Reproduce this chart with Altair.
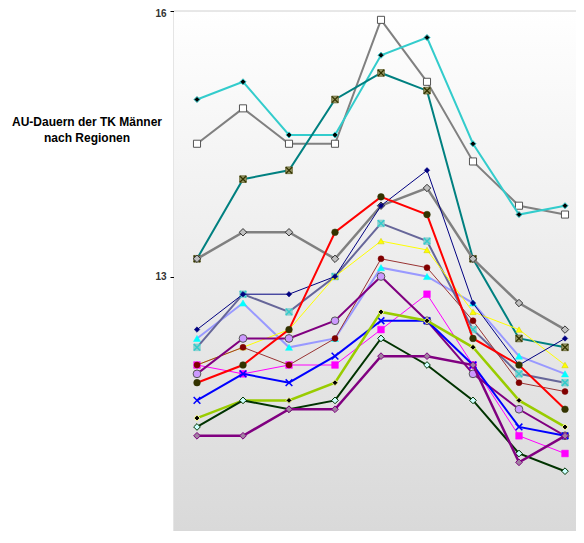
import altair as alt
import pandas as pd

# Category positions (x labels are cut off in the reference)
periods = list(range(9))

s01 = [15.0, 15.2, 14.6, 14.6, 15.5, 15.7, 14.5, 13.7, 13.8]
s02 = [14.5, 14.9, 14.5, 14.5, 15.9, 15.2, 14.3, 13.8, 13.7]
s03 = [13.2, 14.1, 14.2, 15.0, 15.3, 15.1, 13.2, 12.3, 12.2]
s04 = [13.2, 13.5, 13.5, 13.2, 13.8, 14.0, 13.2, 12.7, 12.4]
s05 = [12.4, 12.8, 12.8, 13.0, 13.8, 14.2, 12.7, 12.0, 12.3]
s06 = [12.3, 12.7, 12.2, 12.3, 13.1, 13.0, 12.7, 12.1, 11.9]
s07 = [12.2, 12.8, 12.6, 13.0, 13.6, 13.4, 12.4, 11.9, 11.8]
s08 = [12.0, 12.2, 12.4, 13.0, 13.4, 13.3, 12.6, 12.4, 12.0]
s09 = [12.0, 12.2, 12.0, 12.3, 13.2, 13.1, 12.5, 11.8, 11.7]
s10 = [11.9, 12.3, 12.3, 12.5, 13.0, 12.5, 11.9, 11.5, 11.2]
s11 = [11.8, 12.0, 12.4, 13.5, 13.9, 13.7, 12.3, 12.0, 11.5]
s12 = [12.0, 11.9, 12.0, 12.0, 12.4, 12.8, 12.0, 11.2, 11.0]
s13 = [11.6, 11.9, 11.8, 12.1, 12.5, 12.5, 12.0, 11.3, 11.2]
s14 = [11.4, 11.6, 11.6, 11.8, 12.6, 12.5, 12.2, 11.6, 11.3]
s15 = [11.3, 11.6, 11.5, 11.6, 12.3, 12.0, 11.6, 11.0, 10.8]
s16 = [11.2, 11.2, 11.5, 11.5, 12.1, 12.1, 12.0, 10.9, 11.2]

y_ticks = [10, 13, 16]
title_lines = "AU-Dauern der TK Männer\nnach Regionen"

series = {
    "s01": s01, "s02": s02, "s03": s03, "s04": s04, "s05": s05, "s06": s06,
    "s07": s07, "s08": s08, "s09": s09, "s10": s10, "s11": s11, "s12": s12,
    "s13": s13, "s14": s14, "s15": s15, "s16": s16,
}
rows = []
for name, vals in series.items():
    for p, v in zip(periods, vals):
        rows.append({"series": name, "idx": p, "value": v})
df = pd.DataFrame(rows)

W, H = 402, 520
XPATH = "M-1,-1L1,1M-1,1L1,-1"
ydom = [16 - H / 88.5, 16]
yscale = alt.Scale(domain=ydom, nice=False, zero=False)

xenc = alt.X("idx:Q", scale=alt.Scale(domain=[-0.5, -0.5 + W / 46.0], nice=False, zero=False),
             axis=alt.Axis(labels=False, ticks=False, grid=False, title=None,
                           domainColor="#000000", domainWidth=1.5))
yenc = alt.Y("value:Q", scale=yscale,
             axis=alt.Axis(values=y_ticks, format="d", grid=False, title=None, tickSize=4,
                           tickColor="#000000", domainColor="#000000", domainWidth=1.2,
                           labelFont="Liberation Sans", labelFontWeight="bold",
                           labelFontSize=10, labelColor="#333333", labelPadding=4,
                           labelOffset={"condition": {"test": "datum.value == 16", "value": 2},
                                        "value": 0}))

# style: line color, line width, list of marker layers (shape, size, fill, stroke, strokeWidth)
styles = {
    "s02": ("#808080", 2, [("square", 50, "#ffffff", "#555555", 1)]),
    "s01": ("#33CCCC", 2, [("diamond", 36, "#000000", "#33CCCC", 1)]),
    "s03": ("#008080", 2, [("square", 45, "#999966", "#666633", 0.8), (XPATH, 40, None, "#333300", 1.3)]),
    "s04": ("#808080", 2.5, [("diamond", 55, "#C0C0C0", "#333333", 1)]),
    "s06": ("#9999FF", 2, [("triangle-up", 50, "#00FFFF", "#00FFFF", 0.5)]),
    "s07": ("#666699", 2, [("square", 45, "#99CCCC", "#66CCCC", 0.5), (XPATH, 40, None, "#33CCCC", 1.5)]),
    "s08": ("#FFFF00", 1, [("triangle-up", 40, "#FFFF00", "#CCCC00", 0.5)]),
    "s12": ("#FF00FF", 1, [("square", 45, "#FF00FF", "#FF00FF", 0.5)]),
    "s09": ("#993333", 1, [("circle", 36, "#800000", "#800000", 0.5)]),
    "s05": ("#000080", 1, [("diamond", 30, "#000080", "#000080", 0.5)]),
    "s10": ("#800080", 2, [("circle", 60, "#CC99FF", "#555555", 1)]),
    "s11": ("#FF0000", 2, [("circle", 45, "#333300", "#333300", 0.5)]),
    "s13": ("#0000FF", 2, [(XPATH, 45, None, "#0000FF", 1.5)]),
    "s14": ("#99CC00", 2.5, [("diamond", 36, "#000000", "#FFFF99", 1)]),
    "s15": ("#003300", 2, [("diamond", 45, "#CCFFFF", "#003300", 1)]),
    "s16": ("#800080", 2.5, [("diamond", 45, "#A080A0", "#800080", 1)]),
}

bg = alt.Chart(pd.DataFrame({"a": [0]})).mark_rect(
    fill=alt.Gradient(gradient="linear",
                      stops=[alt.GradientStop(color="#ffffff", offset=0),
                             alt.GradientStop(color="#d9d9d9", offset=1)],
                      x1=0, x2=0, y1=0, y2=1),
).encode(x=alt.value(0), x2=alt.value(W), y=alt.value(0), y2=alt.value(H))

top_rule = alt.Chart(pd.DataFrame({"a": [0]})).mark_rule(color="#d0d0d0", strokeWidth=1).encode(
    y=alt.datum(16, scale=yscale)
)

layers = [bg, top_rule]
base = alt.Chart(df)
for name, (lc, lw, markers) in styles.items():
    sub = base.transform_filter(alt.datum.series == name)
    layers.append(sub.mark_line(color=lc, strokeWidth=lw).encode(x=xenc, y=yenc))
    for shape, size, fill, stroke, sw in markers:
        if fill is None:
            m = sub.mark_point(shape=shape, size=size, filled=False, stroke=stroke,
                               strokeWidth=sw, opacity=1)
        else:
            m = sub.mark_point(shape=shape, size=size, filled=True, fill=fill, stroke=stroke,
                               strokeWidth=sw, opacity=1, fillOpacity=1)
        layers.append(m.encode(x=xenc, y=yenc))

title = alt.Chart(pd.DataFrame({"t": [title_lines]})).mark_text(
    font="Liberation Sans", fontWeight="bold", fontSize=12, align="center",
    baseline="alphabetic", lineBreak="\n", lineHeight=16, color="#000000"
).encode(x=alt.value(-87), y=alt.value(115), text="t:N")
layers.append(title)

chart = alt.layer(*layers).properties(
    width=W, height=H,
    padding={"left": 166, "top": 3, "right": 0, "bottom": 0},
    autosize=alt.AutoSizeParams(type="none"),
).configure_view(stroke=None)

chart.save("out.html", embed_options={"renderer": "svg", "actions": False})
